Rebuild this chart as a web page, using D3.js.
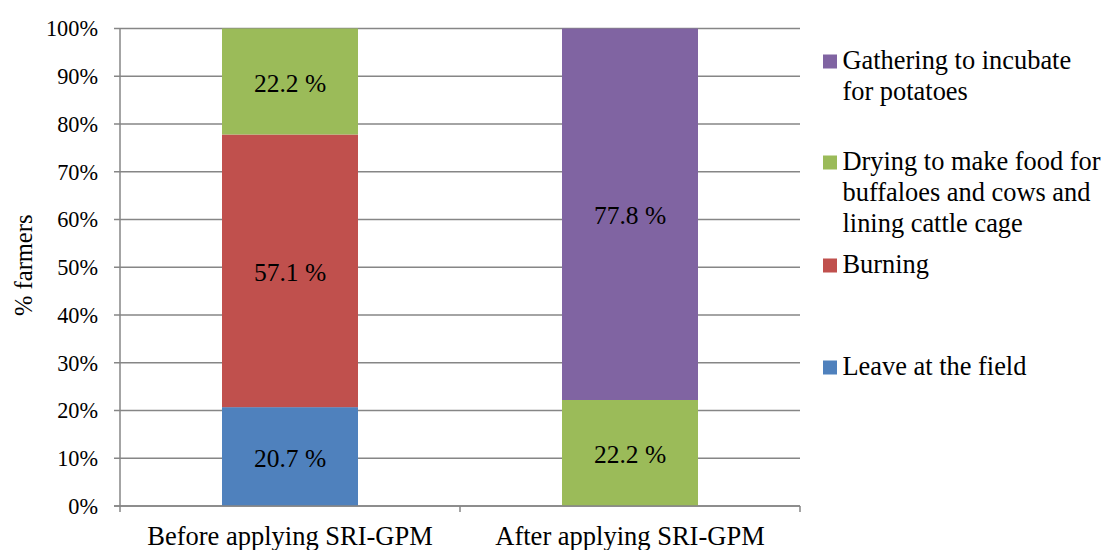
<!DOCTYPE html>
<html>
<head>
<meta charset="utf-8">
<script src="https://cdn.jsdelivr.net/npm/d3@7"></script>
<style>
  body { margin: 0; background: #fff; }
  text { font-family: "Liberation Serif", "Times New Roman", serif; fill: #000; }
</style>
</head>
<body>
<div id="chart"></div>
<script>
var categories = ["Before applying SRI-GPM", "After applying SRI-GPM"];
var seriesNames = ["Leave at the field", "Burning", "Drying to make food for buffaloes and cows and lining cattle cage", "Gathering to incubate for potatoes"];
var seriesColors = ["#4F81BD", "#C0504D", "#9BBB59", "#8064A2"];
var leaveValues = [20.7, 0];
var burningValues = [57.1, 0];
var dryingValues = [22.2, 22.2];
var gatheringValues = [0, 77.8];
var yTicks = [0, 10, 20, 30, 40, 50, 60, 70, 80, 90, 100];
var legendLines = [
  ["Gathering to incubate", "for potatoes"],
  ["Drying to make food for", "buffaloes and cows and", "lining cattle cage"],
  ["Burning"],
  ["Leave at the field"]
];

var W = 1105, H = 550;
var margin = {top: 28.5, left: 120, right: 305, bottom: 44};
var width = W - margin.left - margin.right,
    height = H - margin.top - margin.bottom;

var svg = d3.select("#chart").append("svg")
  .attr("width", W).attr("height", H);
var g = svg.append("g")
  .attr("transform", "translate(" + margin.left + "," + margin.top + ")");

var x = d3.scaleBand().domain(categories).range([0, width]);
var y = d3.scaleLinear().domain([0, 100]).range([height, 0]);

var gridColor = "#868686";

// gridlines + y ticks
g.selectAll(".grid").data(yTicks).enter().append("line")
  .attr("x1", -6).attr("x2", width)
  .attr("y1", function(d){ return y(d); }).attr("y2", function(d){ return y(d); })
  .attr("stroke", gridColor).attr("stroke-width", 1.5);

g.selectAll(".ylab").data(yTicks).enter().append("text")
  .attr("x", -22).attr("y", function(d){ return y(d); })
  .attr("dy", "0.35em").attr("text-anchor", "end")
  .style("font-size", "22.3px")
  .text(function(d){ return d + "%"; });

// stacked data
var table = categories.map(function(c, i){
  return {cat: c, s0: leaveValues[i], s1: burningValues[i], s2: dryingValues[i], s3: gatheringValues[i]};
});
var stack = d3.stack().keys(["s0", "s1", "s2", "s3"]);
var layers = stack(table);

var bw = x.bandwidth();
layers.forEach(function(layer, k){
  layer.forEach(function(d){
    var v = d[1] - d[0];
    if (v <= 0) return;
    var bx = x(d.data.cat) + bw * 0.3;
    g.append("rect")
      .attr("x", bx).attr("width", bw * 0.4)
      .attr("y", y(d[1])).attr("height", y(d[0]) - y(d[1]))
      .attr("fill", seriesColors[k]);
    g.append("text")
      .attr("x", bx + bw * 0.2).attr("y", y((d[0] + d[1]) / 2))
      .attr("dy", "0.4em").attr("text-anchor", "middle")
      .style("font-size", "25.5px")
      .text(v.toFixed(1) + " %");
  });
});

// axes lines
g.append("line").attr("x1", 0).attr("x2", 0).attr("y1", 0).attr("y2", height)
  .attr("stroke", gridColor).attr("stroke-width", 1.5);
g.append("line").attr("x1", -6).attr("x2", width).attr("y1", height).attr("y2", height)
  .attr("stroke", gridColor).attr("stroke-width", 1.5);
[0, 1, 2].forEach(function(i){
  g.append("line").attr("x1", i * bw).attr("x2", i * bw)
    .attr("y1", height).attr("y2", height + 6)
    .attr("stroke", gridColor).attr("stroke-width", 1.5);
});

g.selectAll(".xlab").data(categories).enter().append("text")
  .attr("x", function(d){ return x(d) + bw / 2; })
  .attr("y", height + 39)
  .attr("text-anchor", "middle")
  .style("font-size", "26.5px")
  .text(function(d){ return d; });

// y title
svg.append("text")
  .attr("transform", "translate(32," + (margin.top + height / 2 - 2) + ") rotate(-90)")
  .attr("text-anchor", "middle")
  .style("font-size", "24.5px")
  .text("% farmers");

// legend
var legendColors = [seriesColors[3], seriesColors[2], seriesColors[1], seriesColors[0]];
var legendBase = [69, 170, 273, 375];
legendLines.forEach(function(lines, i){
  var lg = svg.append("g");
  lg.append("rect").attr("x", 823).attr("y", legendBase[i] - 14.5)
    .attr("width", 14).attr("height", 14).attr("fill", legendColors[i]);
  lines.forEach(function(t, j){
    lg.append("text").attr("x", 842.5).attr("y", legendBase[i] + j * 31)
      .style("font-size", "26.4px").text(t);
  });
});
</script>
</body>
</html>
